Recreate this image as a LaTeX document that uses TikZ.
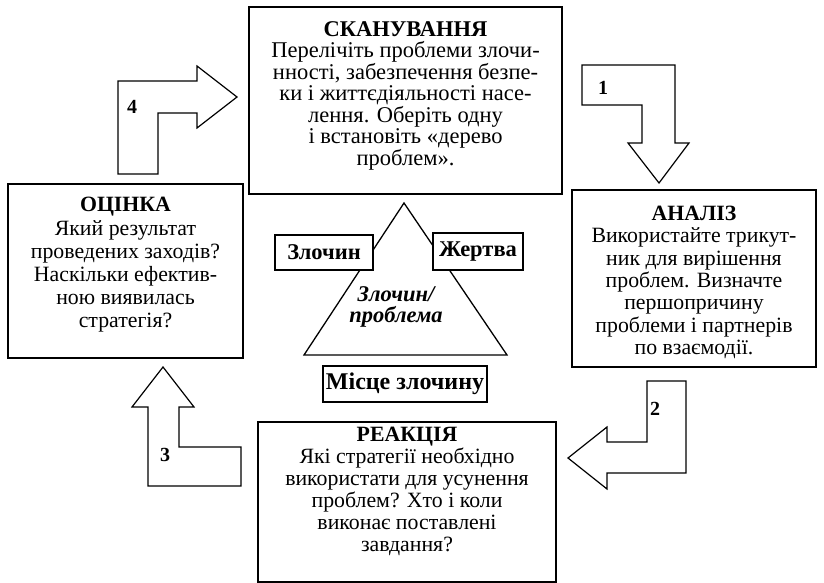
\documentclass[tikz,border=0pt]{standalone}
\usepackage{fontspec}
\setmainfont{Liberation Serif}
\lineskiplimit=-100pt
\newcommand{\setfs}[2]{\fontsize{#1}{#2}\selectfont\lineskiplimit=-100pt\relax}
\begin{document}
\begin{tikzpicture}[x=1pt,y=-1pt,
  bigbox/.style={draw, line width=1.5pt, fill=white, inner sep=0pt},
  smallbox/.style={draw, line width=1.4pt, fill=white, inner sep=0pt, font=\setfs{22.5}{24}\bfseries},
  txtA/.style={align=center, inner sep=0pt, font=\setfs{22.5}{21.5}},
  txtB/.style={align=center, inner sep=0pt, font=\setfs{21.8}{22.4}},
  num/.style={inner sep=0pt, font=\setfs{20}{22}\bfseries},
  bentarrow/.style={draw, line width=1.2pt, line join=miter},
  tri/.style={draw, line width=1.3pt, line join=miter}]
\useasboundingbox (0,0) rectangle (824,583);

% bent arrows
\draw[bentarrow] (118,174) -- (118,81) -- (197,81) -- (197,66) -- (237,97) -- (197,128) -- (197,113) -- (158,113) -- (158,174) -- cycle;
\draw[bentarrow] (582,65) -- (675,65) -- (675,143) -- (689,143) -- (659,183) -- (628,143) -- (642,143) -- (642,105) -- (582,105) -- cycle;
\draw[bentarrow] (647,381) -- (686,381) -- (686,473) -- (607,473) -- (607,489) -- (568,458) -- (607,427) -- (607,442) -- (647,442) -- cycle;
\draw[bentarrow] (241,486) -- (148,486) -- (148,407) -- (132,407) -- (163,367) -- (194,407) -- (179,407) -- (179,447) -- (241,447) -- cycle;

\node[num] (n4) at (132,107) {4};
\node[num] (n1) at (603,88) {1};
\node[num] (n2) at (655,409) {2};
\node[num] (n3) at (165,455) {3};

% main boxes
\node[bigbox, minimum width=313pt, minimum height=187pt] (scan) at (405.5,100.5) {};
\node[txtA, anchor=north] (scant) at ([yshift=-15pt]scan.north) {{\bfseries СКАНУВАННЯ}\\
Перелічіть проблеми злочи-\\
нності, забезпечення безпе-\\
ки і життєдіяльності насе-\\
лення. Оберіть одну\\
і встановіть «дерево\\
проблем».};

\node[bigbox, minimum width=235pt, minimum height=174pt] (eval) at (125.5,271) {};
\node[txtB, anchor=north, font=\setfs{21.8}{23.2}] (evalt) at ([yshift=-14pt]eval.north) {{\bfseries ОЦІНКА}\\
Який результат\\
проведених заходів?\\
Наскільки ефектив-\\
ною виявилась\\
стратегія?};

\node[bigbox, minimum width=244pt, minimum height=177pt] (anal) at (694,278.5) {};
\node[txtB, anchor=north] (analt) at ([yshift=-16.5pt]anal.north) {{\bfseries АНАЛІЗ}\\
Використайте трикут-\\
ник для вирішення\\
проблем. Визначте\\
першопричину\\
проблеми і партнерів\\
по взаємодії.};

\node[bigbox, minimum width=298pt, minimum height=160pt] (react) at (407,502) {};
\node[txtB, anchor=north, font=\setfs{21.8}{22}] (reactt) at ([yshift=-5.6pt]react.north) {{\bfseries РЕАКЦІЯ}\\
Які стратегії необхідно\\
використати для усунення\\
проблем? Хто і коли\\
виконає поставлені\\
завдання?};

% triangle
\draw[tri] (404,203) -- (507,355) -- (304,355) -- cycle;
\node[align=center, inner sep=0pt, font=\setfs{22.5}{20.5}\bfseries\itshape] (prob) at (396,307) {Злочин/\\проблема};

\node[smallbox, minimum width=98pt, minimum height=35pt] (crime) at (324,252.5) {Злочин};
\node[smallbox, minimum width=90pt, minimum height=37pt] (victim) at (478,251.5) {Жертва};
\node[smallbox, minimum width=164pt, minimum height=36pt, font=\setfs{24}{26}\bfseries] (place) at (405,384) {Місце злочину};
\end{tikzpicture}
\end{document}
